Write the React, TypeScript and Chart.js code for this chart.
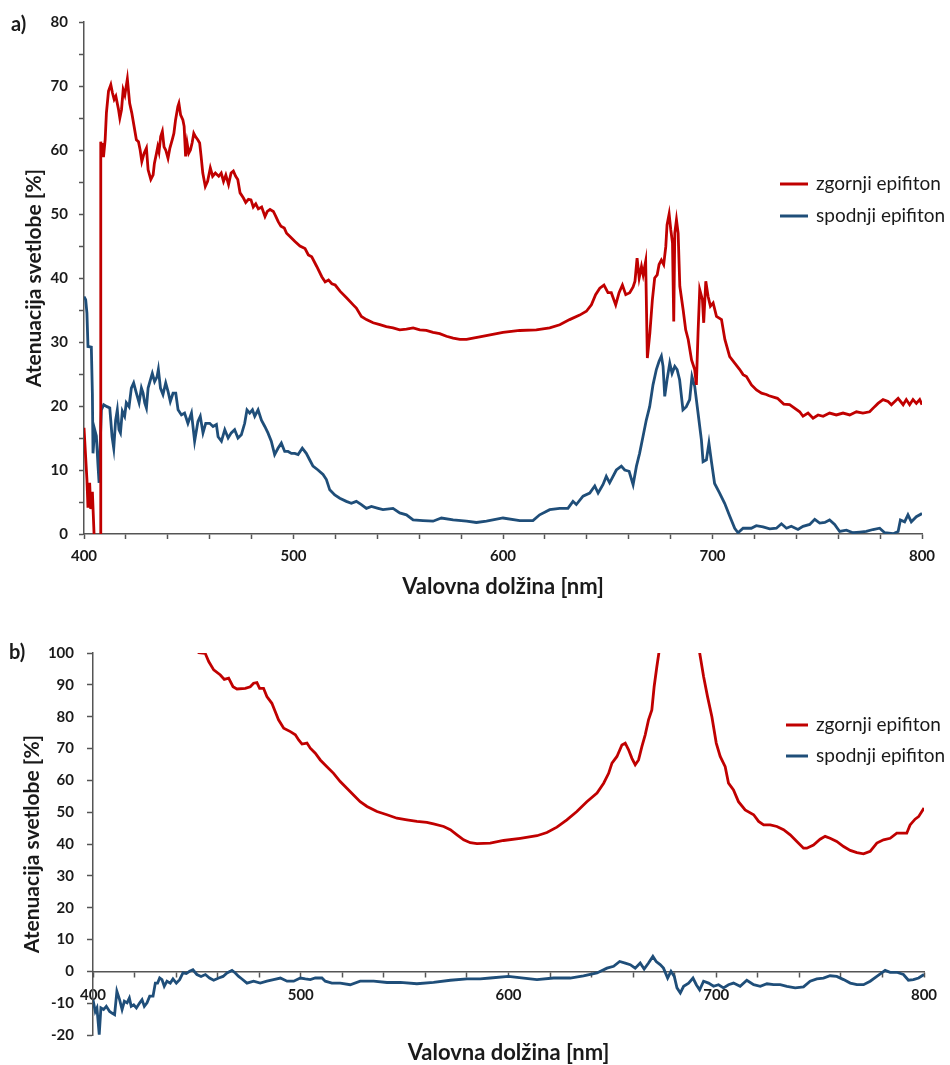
import React, { useEffect, useRef } from 'react';
import { Chart, registerables } from 'chart.js';

Chart.register(...registerables);

const FONT = 'Lato';
const RED = '#C00000';
const BLUE = '#1F4E79';
const AXIS = '#555555';
const TEXT = '#1a1a1a';

const seriesLabels = ['zgornji epifiton', 'spodnji epifiton'];
const xTitle = 'Valovna dolžina [nm]';
const yTitle = 'Atenuacija svetlobe [%]';

// ---- panel a) : zgornji epifiton ----
const aZgornjiNm = [400, 401.4, 401.9, 402.7, 403.2, 404, 404.8, 405.5, 406.5, 407.8, 408, 408.6, 409, 409.3, 410.1, 410.7, 411.7, 412.8, 413.6, 414.4, 415.2, 416.5, 417.1, 417.9, 418.7, 419.5, 420.7, 421.8, 422.8, 423.9, 425, 426, 426.8, 427.6, 428.7, 429.8, 430.6, 431.9, 433, 433.6, 434.6, 435.2, 435.8, 436.6, 437.4, 438.2, 439, 440.1, 441, 442.1, 442.9, 443.7, 444.8, 445.3, 446.1, 447.2, 447.8, 448.5, 449.2, 450, 450.8, 451.6, 452.4, 453.2, 454.3, 455.2, 455.9, 456.7, 457.9, 459, 460.3, 461.4, 462.7, 464.3, 465.5, 466.6, 467.7, 469, 470.2, 471.3, 472.4, 473.4, 474.5, 476.1, 477.2, 478.5, 479.7, 480.8, 482, 483.2, 484.8, 486.4, 487.5, 488.8, 490.4, 491.6, 492.7, 494, 495.6, 496.7, 498.3, 500.7, 503.1, 505.5, 507.1, 508.7, 511.1, 513.5, 515.1, 516.7, 518.3, 519.9, 522.3, 525.3, 528.5, 530, 532.4, 534.8, 538, 541.2, 544.3, 547.5, 550.7, 553.9, 557.1, 560.3, 563.4, 566.6, 569.8, 573, 576.2, 579.4, 582.6, 585.7, 588.9, 592, 600, 608, 615.9, 622.3, 627.1, 631.8, 636.6, 639.8, 642.2, 644.2, 646.2, 648.2, 650.1, 651.7, 653.8, 655.4, 657, 658.6, 660.5, 662.1, 663, 664, 665, 666.1, 666.9, 668.1, 668.9, 670.1, 671.3, 672.4, 673.6, 674.5, 675.6, 676.7, 677.7, 678.3, 679.3, 680.1, 680.9, 681.5, 682, 682.8, 683.6, 684.4, 686, 687.2, 688.4, 690, 691.5, 692.3, 693.1, 693.9, 695.2, 695.8, 696.8, 697.9, 699, 700.3, 701.9, 704.3, 705.9, 708.2, 710.6, 713, 714.6, 716.2, 718.6, 721, 723.4, 725.7, 727, 731, 734, 736.8, 741.6, 743.2, 745.6, 748, 750.4, 752.8, 755.9, 759.1, 762.3, 765.5, 768.7, 771.8, 775, 777.4, 779, 781.4, 783.8, 785.4, 788.6, 791, 792.5, 794.1, 795.7, 797.3, 798.9, 800];
const aZgornjiVal = [16.6, 8.5, 4.1, 8.0, 3.9, 6.6, 0, -4, -8, -8, 61.3, 59.1, 61.1, 58.9, 61.6, 65.8, 69.2, 70.2, 68.9, 67.9, 68.4, 66.3, 65.0, 66.3, 69.4, 68.6, 71.1, 67.3, 65.8, 63.7, 61.6, 61.3, 60.0, 58.2, 59.5, 60.3, 56.9, 55.4, 56.1, 57.9, 59.5, 60.5, 59.7, 62.1, 62.9, 60.5, 60.0, 58.7, 60.3, 61.6, 62.6, 64.7, 66.8, 67.3, 65.5, 64.7, 63.7, 59.0, 61.1, 59.5, 60.0, 61.1, 62.6, 62.1, 61.6, 61.1, 59.0, 56.4, 54.3, 55.1, 57.2, 55.9, 56.4, 55.9, 56.4, 55.1, 56.1, 54.6, 56.4, 56.7, 55.9, 55.4, 53.3, 52.5, 51.8, 52.3, 52.2, 51.1, 51.6, 50.8, 51.1, 49.6, 50.4, 50.7, 50.4, 49.6, 48.8, 48.1, 47.8, 47.0, 46.5, 45.7, 45.0, 44.6, 43.6, 43.3, 41.8, 40.2, 39.4, 39.7, 39.1, 38.9, 37.9, 36.9, 35.8, 35.3, 34.0, 33.5, 33.0, 32.7, 32.4, 32.2, 31.9, 32.0, 32.2, 31.9, 31.8, 31.5, 31.3, 30.9, 30.6, 30.4, 30.4, 30.6, 30.8, 31.0, 31.5, 31.8, 31.9, 32.2, 32.7, 33.5, 34.2, 34.8, 35.8, 37.4, 38.4, 38.9, 37.7, 37.7, 35.8, 37.7, 38.9, 37.4, 37.7, 38.6, 39.5, 43.1, 40.0, 41.8, 40.5, 42.6, 27.5, 31.4, 36.6, 40.0, 40.5, 42.1, 42.8, 42.1, 44.9, 48.3, 50.0, 47.5, 45.5, 33.2, 47.0, 49.1, 47.0, 38.7, 35.0, 31.9, 30.4, 27.2, 25.7, 23.3, 31.4, 38.2, 36.6, 33.0, 39.5, 37.1, 35.6, 36.1, 34.0, 33.5, 30.4, 27.7, 26.7, 25.7, 24.9, 24.6, 23.3, 22.5, 22.0, 21.8, 21.6, 21.2, 20.3, 20.2, 19.1, 18.4, 18.9, 18.1, 18.6, 18.4, 18.9, 18.6, 18.9, 18.6, 19.1, 18.9, 19.1, 19.9, 20.4, 21.0, 20.7, 20.2, 21.2, 20.2, 21.0, 20.2, 21.0, 20.4, 21.0, 20.2];

// ---- panel a) : spodnji epifiton ----
const aSpodnjiNm = [400, 400.8, 401.4, 401.9, 403.5, 404, 404.3, 405.1, 405.9, 406.7, 407.2, 407.8, 408.3, 409.4, 411, 412.3, 413.4, 414.2, 415.1, 415.9, 416.7, 417.4, 418.3, 419.4, 420.2, 421.5, 422.6, 423.7, 425, 426.3, 427.4, 428.2, 429, 429.8, 430.6, 431.7, 432.6, 433.7, 434.9, 435.5, 436.5, 437.7, 439, 440.1, 441.2, 442.5, 443.8, 444.9, 446.5, 448, 449.6, 451.3, 452.8, 454.4, 455.5, 456.8, 458.1, 460, 461.6, 463.2, 464, 465.6, 467.2, 468.8, 470.3, 471.9, 473.5, 475.1, 476.7, 477.8, 479.1, 480.4, 481.5, 483.1, 484.7, 486.3, 487.8, 489.4, 491, 492.6, 494.2, 495.8, 497.4, 499, 500.6, 502.2, 504.2, 506.1, 507.7, 509.3, 511.7, 514.1, 515.7, 517.3, 519.7, 522.1, 525.2, 527.6, 530, 532.4, 534.8, 537.2, 540.4, 542.7, 547.5, 550.7, 553.9, 557.1, 561.8, 566.6, 570.6, 576.2, 582.6, 587.3, 592.1, 600, 608, 614.3, 617.5, 622.3, 627.1, 631, 633.4, 635, 638.2, 641.4, 643.8, 645.4, 647.7, 649.3, 650.9, 654.1, 656.5, 658.1, 660.2, 662.1, 663.7, 665.2, 666.8, 668.4, 670, 671.6, 673.2, 674.5, 675.6, 676.4, 677.2, 678.3, 679.6, 680.7, 682, 683.1, 684.3, 685.9, 687.5, 689.1, 690.2, 691.5, 693.1, 694.7, 695.5, 697.1, 698.3, 699.5, 701, 703.4, 705.8, 708.2, 710.6, 712.2, 714.6, 718.5, 720.9, 724.1, 727.3, 730.5, 732.9, 735.3, 737.6, 740.8, 743.2, 746.4, 748.8, 751.2, 753.6, 755.9, 758.3, 760.7, 763.9, 767.1, 770.3, 773.4, 776.6, 779.8, 782.2, 786.2, 788.6, 789.7, 791.7, 793.3, 794.9, 797.3, 800];
const aSpodnjiVal = [37.1, 36.6, 34.5, 29.3, 29.2, 22.0, 12.6, 16.3, 15.3, 10.6, 8.0, 14.7, 19.4, 20.2, 19.9, 19.7, 15.2, 13.4, 17.8, 19.4, 16.3, 15.8, 19.2, 18.4, 20.5, 19.9, 22.8, 23.6, 22.0, 20.5, 22.8, 22.0, 20.5, 19.7, 22.8, 24.1, 25.1, 23.8, 24.6, 25.7, 22.8, 21.8, 23.6, 22.3, 20.7, 22.0, 22.0, 19.4, 18.6, 18.9, 17.3, 18.9, 14.5, 17.6, 18.4, 15.8, 17.3, 17.3, 16.8, 17.1, 15.2, 14.5, 16.3, 15.0, 15.8, 16.3, 15.0, 15.5, 17.3, 19.4, 18.9, 19.4, 18.4, 19.4, 17.8, 16.8, 15.8, 14.5, 12.4, 13.4, 14.2, 12.9, 12.9, 12.6, 12.6, 12.4, 13.4, 12.6, 11.6, 10.6, 10.0, 9.3, 8.5, 6.9, 6.1, 5.6, 5.1, 4.8, 5.1, 4.6, 4.0, 4.3, 4.0, 3.8, 4.0, 3.3, 3.0, 2.2, 2.1, 2.0, 2.5, 2.2, 2.0, 1.8, 2.0, 2.5, 2.1, 2.1, 3.0, 3.8, 4.0, 4.0, 5.1, 4.6, 5.9, 6.4, 7.5, 6.4, 7.7, 9.0, 8.0, 10.0, 10.6, 10.0, 9.8, 7.7, 10.6, 12.6, 15.2, 17.8, 19.9, 23.3, 25.7, 27.0, 27.8, 26.2, 21.5, 24.1, 26.7, 25.1, 26.2, 25.7, 24.1, 19.4, 19.9, 21.0, 24.6, 23.1, 18.9, 14.7, 11.3, 11.6, 14.2, 11.3, 7.9, 6.4, 4.8, 2.8, 0.9, 0.2, 0.9, 0.9, 1.3, 1.1, 0.8, 0.9, 1.6, 0.9, 1.2, 0.7, 1.2, 1.5, 2.3, 1.7, 1.8, 2.2, 1.5, 0.4, 0.6, 0.2, 0.3, 0.4, 0.7, 0.9, 0.2, 0.05, 0.4, 2.2, 1.9, 3.0, 1.9, 2.7, 3.2];

// ---- panel b) : zgornji epifiton ----
const bZgornjiNm = [440, 446, 450.9, 454, 455.7, 458.1, 461.3, 463.2, 465.3, 467.4, 469.3, 473.3, 475.7, 477.3, 478.9, 480.2, 482.1, 483.7, 486.1, 487.7, 489.3, 491.8, 495, 497.4, 499, 500.6, 503, 504.6, 507, 509.4, 512.6, 515.8, 519, 522.2, 525.4, 528.6, 531.9, 536.7, 541.5, 546.3, 551.1, 555.9, 560.7, 563.9, 568.8, 572, 575.2, 578.4, 581.6, 584.8, 588, 591.2, 597.6, 605.7, 613.7, 618.5, 623.3, 628.1, 632.9, 637.7, 642.6, 645.8, 648.2, 649.8, 652.2, 654.6, 656.2, 657.8, 659.4, 661, 662.6, 664.2, 665.8, 667.4, 669, 670.1, 671.4, 672.4, 676, 680, 684, 688, 692, 693.9, 695.8, 697.9, 700, 701.9, 704.3, 705.9, 708.3, 710.7, 713.9, 718, 720.4, 722.8, 726, 729.2, 732.4, 735.6, 738.8, 742, 743.6, 746.8, 750, 752.4, 754.8, 758, 761.3, 764.5, 767.7, 770.9, 774.1, 777.3, 780.5, 783.7, 786.9, 790.1, 791.7, 793.3, 795.7, 797.4, 800];
const bZgornjiVal = [112, 104, 100.1, 99.9, 97.3, 94.7, 93.1, 91.7, 92.1, 89.4, 88.7, 88.9, 89.4, 90.5, 90.7, 88.9, 88.9, 86.3, 84.2, 81.6, 79.0, 76.4, 75.3, 74.3, 72.7, 71.4, 71.7, 70.1, 68.5, 66.4, 64.3, 62.2, 59.6, 57.5, 55.4, 53.3, 51.8, 50.2, 49.2, 48.1, 47.6, 47.1, 46.8, 46.3, 45.5, 44.5, 42.9, 41.3, 40.4, 40.1, 40.2, 40.3, 41.1, 41.8, 42.6, 43.6, 45.3, 47.6, 50.2, 53.3, 56.0, 59.1, 62.2, 65.4, 67.5, 71.1, 71.7, 69.6, 66.9, 64.9, 66.4, 70.6, 74.3, 79.0, 82.1, 89.4, 95.7, 100.1, 118, 128, 128, 115, 100.1, 92.6, 86.3, 80.0, 71.7, 67.5, 64.3, 59.1, 57.0, 53.3, 50.7, 49.2, 47.1, 46.0, 46.0, 45.5, 44.5, 42.9, 40.8, 38.7, 38.7, 39.7, 41.5, 42.4, 41.8, 40.8, 39.2, 38.0, 37.3, 36.9, 37.7, 40.3, 41.3, 41.8, 43.4, 43.4, 43.4, 46.0, 47.8, 48.6, 51.3];

// ---- panel b) : spodnji epifiton ----
const bSpodnjiNm = [400, 401.1, 401.9, 403, 403.8, 405.1, 406.4, 408, 409.1, 410.4, 411.5, 412.8, 414, 415.1, 416.4, 417.5, 418.4, 419.6, 420.9, 422.5, 423.6, 424.7, 426, 427.3, 428.9, 430, 431.1, 432.1, 433.2, 434.3, 435.6, 437.2, 438.5, 440.1, 441.7, 443.3, 444.9, 446.5, 448.1, 450, 452, 454.1, 456.1, 458.1, 460.5, 462.6, 464.5, 466.9, 468.5, 470.1, 471.7, 474.1, 477.3, 480.5, 483.7, 486.9, 490.2, 493.4, 496.6, 499.8, 502.2, 504.6, 507, 510.2, 511.8, 515, 519, 523.8, 528.6, 535.1, 541.5, 547.9, 555.9, 563.9, 572, 580, 586.4, 591.2, 600, 607.3, 613.7, 621.7, 629.7, 636.1, 642.6, 647.4, 650.6, 653.5, 656.2, 658.6, 661, 663.4, 665.3, 667.4, 669.5, 671.1, 673, 674.6, 676.6, 678.2, 679.8, 681.1, 682.7, 684.3, 686.7, 688.8, 690.4, 692, 693.9, 696.3, 698.7, 701.1, 703.5, 705.9, 708.3, 711.5, 714.7, 718, 721.2, 724.4, 727.6, 730.8, 734, 738, 742, 745.2, 748.4, 751.6, 754.8, 758, 761.3, 764.5, 767.7, 770.9, 774.1, 777.3, 781.3, 783.7, 786.9, 790.1, 792.5, 794.9, 797.4, 800];
const bSpodnjiVal = [-8.9, -12.6, -11.5, -19.9, -11.5, -12.0, -11.0, -12.6, -13.1, -13.6, -6.3, -8.9, -12.0, -9.4, -9.9, -8.4, -11.0, -10.5, -11.5, -9.9, -8.9, -11.0, -9.9, -7.8, -7.8, -3.7, -3.7, -2.1, -2.6, -4.7, -3.1, -3.7, -2.4, -3.7, -2.6, -0.5, -0.7, 0, 0.5, -1.0, -1.6, -1.0, -2.1, -2.8, -2.1, -1.6, -0.5, 0.3, -0.5, -1.6, -2.4, -3.7, -3.1, -3.7, -3.1, -2.6, -2.1, -3.1, -3.1, -2.1, -2.4, -2.6, -2.1, -2.1, -3.1, -3.7, -3.7, -4.2, -3.1, -3.1, -3.5, -3.5, -3.9, -3.5, -2.8, -2.4, -2.4, -2.1, -1.6, -2.1, -2.6, -2.1, -2.1, -1.4, -0.5, 1.0, 1.6, 3.1, 2.6, 2.1, 1.0, 2.6, 0.7, 2.6, 4.7, 3.1, 2.1, 1.0, -2.1, 0, -1.6, -5.2, -6.8, -4.7, -3.7, -2.1, -4.2, -5.8, -3.1, -3.7, -4.7, -4.2, -5.2, -4.2, -3.7, -4.7, -2.8, -4.2, -4.7, -3.9, -4.2, -4.2, -4.7, -5.2, -4.9, -3.1, -2.4, -2.1, -1.4, -1.6, -2.6, -3.7, -4.2, -4.2, -3.1, -1.6, 0.3, -0.3, -0.3, -1.0, -2.8, -2.6, -2.1, -1.0];

const toPoints = (nm: number[], val: number[]) => nm.map((x, i) => ({ x, y: val[i] }));

const tickLabel10 = (v: number) => (Math.round(v) % 10 === 0 ? String(Math.round(v)) : '');
const tickLabel100 = (v: any) => (Math.round(Number(v)) % 100 === 0 ? String(Math.round(Number(v))) : '');

const decorPlugin = {
  id: 'decor',
  afterDraw(chart: any, _args: any, opts: any) {
    const ctx = chart.ctx;
    ctx.save();
    ctx.fillStyle = TEXT;
    ctx.textBaseline = 'middle';

    // y tick labels, placed from the y scale's own ticks
    const ys = chart.scales.y;
    ctx.textAlign = 'right';
    ctx.font = `bold 15px ${FONT}`;
    ys.ticks.forEach((t: any) => {
      const lab = tickLabel10(t.value);
      if (lab) ctx.fillText(lab, opts.yLabelRight, ys.getPixelForValue(t.value));
    });

    ctx.textAlign = 'left';
    ctx.font = `bold 20px ${FONT}`;
    ctx.fillText(opts.panel, opts.panelX, opts.panelY);
    ctx.font = `19px ${FONT}`;
    chart.data.datasets.forEach((ds: any, i: number) => {
      const y = opts.legendY + i * opts.legendGap;
      ctx.strokeStyle = ds.borderColor;
      ctx.lineWidth = 3;
      ctx.beginPath();
      ctx.moveTo(opts.legendX, y);
      ctx.lineTo(opts.legendX + opts.legendLen, y);
      ctx.stroke();
      ctx.fillText(ds.label, opts.legendX + opts.legendLen + 8, y);
    });
    ctx.restore();
  },
};

const tickFont = { family: FONT, size: 15, weight: 'bold' as const };
const xTitleFont = { family: FONT, size: 22, weight: 'bold' as const, lineHeight: 1.2 };
const yTitleFont = { family: FONT, size: 21, weight: 'bold' as const, lineHeight: 1.2 };

function makeDatasets(zNm: number[], zVal: number[], sNm: number[], sVal: number[]) {
  return [
    { label: seriesLabels[0], data: toPoints(zNm, zVal), borderColor: RED, backgroundColor: RED, borderWidth: 2.8, pointRadius: 0, tension: 0, clip: 0 },
    { label: seriesLabels[1], data: toPoints(sNm, sVal), borderColor: BLUE, backgroundColor: BLUE, borderWidth: 2.8, pointRadius: 0, tension: 0, clip: 0 },
  ];
}

export default function App() {
  const refA = useRef<HTMLCanvasElement | null>(null);
  const refB = useRef<HTMLCanvasElement | null>(null);

  useEffect(() => {
    const chartA = new Chart(refA.current as HTMLCanvasElement, {
      type: 'line',
      data: { datasets: makeDatasets(aZgornjiNm, aZgornjiVal, aSpodnjiNm, aSpodnjiVal) as any },
      plugins: [decorPlugin],
      options: {
        animation: false,
        responsive: false,
        events: [],
        layout: { padding: { left: 0, right: 28, top: 22, bottom: 0 } },
        plugins: {
          legend: { display: false },
          tooltip: { enabled: false },
          decor: { panel: 'a)', panelX: 11, panelY: 25, legendX: 780, legendY: 184, legendGap: 32, legendLen: 28, yLabelRight: 68 },
        } as any,
        scales: {
          x: {
            type: 'linear',
            min: 400,
            max: 800,
            ticks: {
              stepSize: 20,
              autoSkip: false,
              maxRotation: 0,
              padding: 8,
              color: TEXT,
              font: tickFont,
              callback: tickLabel100,
            },
            grid: { drawOnChartArea: false, drawTicks: true, tickLength: 5, color: AXIS, tickColor: AXIS, tickWidth: 1.5 },
            border: { display: true, color: AXIS, width: 1.5 },
            title: { display: true, text: xTitle, color: TEXT, font: xTitleFont, padding: { top: 0, bottom: 10.3 } },
            afterFit: (s: any) => { s.height = 76; },
          },
          y: {
            type: 'linear',
            min: 0,
            max: 80,
            ticks: { stepSize: 5, autoSkip: false, display: false, padding: 0 },
            grid: { drawOnChartArea: false, drawTicks: true, tickLength: 5, color: AXIS, tickColor: AXIS, tickWidth: 1.5 },
            border: { display: true, color: AXIS, width: 1.5 },
            title: { display: true, text: yTitle, color: TEXT, font: yTitleFont, padding: { top: 21.9, bottom: 0 } },
            afterFit: (s: any) => { s.width = 84; },
          },
        },
      } as any,
    });

    const chartB = new Chart(refB.current as HTMLCanvasElement, {
      type: 'line',
      data: { datasets: makeDatasets(bZgornjiNm, bZgornjiVal, bSpodnjiNm, bSpodnjiVal) as any },
      plugins: [decorPlugin],
      options: {
        animation: false,
        responsive: false,
        events: [],
        layout: { padding: { left: 0, right: 26, top: 43, bottom: 30 } },
        plugins: {
          legend: { display: false },
          tooltip: { enabled: false },
          decor: { panel: 'b)', panelX: 9, panelY: 43, legendX: 786, legendY: 115, legendGap: 31, legendLen: 22, yLabelRight: 74 },
        } as any,
        scales: {
          x: {
            type: 'linear',
            position: { y: 0 },
            min: 400,
            max: 800,
            ticks: {
              stepSize: 20,
              autoSkip: false,
              maxRotation: 0,
              padding: 10,
              color: TEXT,
              font: tickFont,
              callback: tickLabel100,
            },
            grid: { drawOnChartArea: false, drawTicks: true, tickLength: 5, color: AXIS, tickColor: AXIS, tickWidth: 1.5 },
            border: { display: true, color: AXIS, width: 1.5 },
            title: { display: true, text: xTitle, color: TEXT, font: xTitleFont, padding: { top: 0, bottom: 0 } },
            afterFit: (s: any) => { s.height = 94.5; },
          },
          y: {
            type: 'linear',
            min: -20,
            max: 100,
            ticks: { stepSize: 10, autoSkip: false, display: false, padding: 0 },
            grid: { drawOnChartArea: false, drawTicks: true, tickLength: 6, color: AXIS, tickColor: AXIS, tickWidth: 1.5 },
            border: { display: true, color: AXIS, width: 1.5 },
            title: { display: true, text: yTitle, color: TEXT, font: yTitleFont, padding: { top: 19.4, bottom: 0 } },
            afterFit: (s: any) => { s.width = 93; },
          },
        },
      } as any,
    });

    return () => {
      chartA.destroy();
      chartB.destroy();
    };
  }, []);

  return (
    <div style={{ position: 'absolute', left: 0, top: 0, width: 950, height: 1065, background: '#ffffff' }}>
      <canvas ref={refA} width={950} height={610} style={{ position: 'absolute', left: 0, top: 0, width: 950, height: 610 }} />
      <canvas ref={refB} width={950} height={455} style={{ position: 'absolute', left: 0, top: 610, width: 950, height: 455 }} />
    </div>
  );
}
